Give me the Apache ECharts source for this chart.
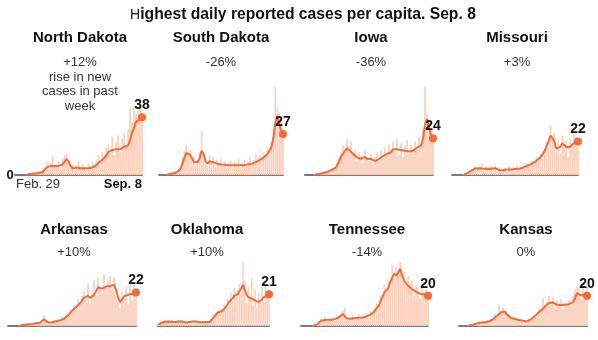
<!DOCTYPE html>
<html><head><meta charset="utf-8">
<script src="https://cdn.jsdelivr.net/npm/echarts@6/dist/echarts.min.js"></script>
<style>html,body{margin:0;padding:0;background:#fff}#c{width:598px;height:340px}</style>
</head><body><div id="c"></div>
<script>
// ---- DATA ----
const titleText = "Highest daily reported cases per capita. Sep. 8";
const states = ["North Dakota","South Dakota","Iowa","Missouri","Arkansas","Oklahoma","Tennessee","Kansas"];
const changes = ["+12%\nrise in new\ncases in past\nweek","-26%","-36%","+3%","+10%","+10%","-14%","0%"];
const lastValues = [38, 27, 24, 22, 22, 21, 20, 20];
const dateLabels = ["Feb. 29", "Sep. 8"];
const N = 65; // every 3 days, Feb 29 .. Sep 8
const _ = null;

const ndBars = [0,0,0,0,0,0, 0.5,1,0.4,2,1.5,0.8,2.5,1,3,5, 9,4,8,12,5,7,9,4,11,13, 14,8,5,7,3,6,9,4,7,5, 3,8,6,9,7,10,13,8,15,12, 18,20,14,25,13,22,26,15,24,28, 20,30,44,35,45,40,42,46,41];
const ndLine = [_,_,_,_,_,_, 0.3,0.5,0.7,1,1,1.2,1.3,1.5,2,2.5, 5,5.5,6,6.5,6,6.5,6,6.5,7,8, 10.5,9,6,4.5,3.5,5,5,4.5,4.5,4.5, 4.5,4.5,4.8,5,5.5,6.5,8,9,10,11, 13,15,16,16.5,15.5,17,17.5,17,18,18.5, 19,19.5,23,28,31,35,36,37,38];

const sdBars = [0,0,0,0, 0.3,0.8,1.2,0.6,2,1.5,4,6,12,16, 20,14,17,9,12,6,10,15,29,11, 8,6,13,9,12,5,10,7,11,6, 9,5,8,10,4,9,7,11,5,8, 10,6,9,12,7,10,14,8,13,11, 15,12,18,16,22,30,58,45,40,36,30];
const sdLine = [_,_,_,_, 0.2,0.5,0.8,1,1.3,1.6,2.5,4,7,11, 14.5,15,13.5,11,8.5,7.8,8.5,11,16,14, 9,7.5,9,10,8.5,8,7.5,8,7,7.5, 6.8,7,6.5,6.3,6.5,6.8,6.5,6.3,6.5,6.8, 6.5,6.8,7,7,7.5,8,8.5,9.5,10,10.5, 11.5,12.5,14,16,18.5,24,34,39,34,29,27];

const iaBars = [0,0,0,0,0, 0.5,0.8,1.2,0.6,1.8,2.5,1.4,3.5,4,5, 3,8,12,15,20,16,24,19,22,14, 17,9,15,13,8,16,12,9,14,7, 12,15,9,16,11,18,13,20,17,22, 15,24,13,21,12,19,23,14,20,18, 22,17,25,21,30,58,40,35,30,28];
const iaLine = [_,_,_,_,_, 0.3,0.5,0.7,1,1.3,1.7,2,2.6,3.2,3.7, 4.5,6,9,12,14,16,17.5,18,15.5,14, 13,11.5,12,10.7,11,12,10.5,10.3,10.7,9.5, 9.2,10,10.5,11.4,12.5,13,14,14.5,15,17, 18,17,16.5,16.5,15.8,16,16.3,15.5,15.5,16, 16.5,18,19,19.5,24,33,37,31,26,24];

const moBars = [0,0,0,0,0,0, 0.5,1.2,1,3,2,5,6,4,5,7, 3,6,5,4,6,3,7,2,5,4, 3,5,2,6,4,5,3,6,5,4, 7,5,8,6,9,10,7,12,9,14, 11,17,22,18,33,25,28,16,24,14, 26,18,23,12,24,20,27,25,18];
const moLine = [_,_,_,_,_,_, 0.3,0.8,1.4,2,3,3.8,4.3,4.5,4.4,4.6, 4.2,4.4,4.2,4.3,4.1,4.6,4.4,3.5,3.2,3.4, 3.3,3.5,3.6,3.7,3.7,3.8,3.9,4,4.1,4.2, 4.8,5.5,6,6.3,7,7.5,8.5,9.2,10.5,11.5, 13.5,15.8,19,22,26,24.5,22,17.5,17,18.5, 21,20,18.5,17.5,18.5,20,21,22,22];

const arBars = [0,0,0,0,0,0, 0.5,0.8,1,0.6,1.5,1.2,2,1.8,2.5,1.5, 3,2,7,4,1.5,3,2.5,4,3,5, 4,6,5,8,7,11,9,14,12,18, 15,20,23,17,28,15,22,30,20,32, 26,22,34,25,30,33,24,32,20,16, 12,23,18,26,14,30,17,27,25];
const arLine = [_,_,_,_,_,_, 0.3,0.5,0.7,0.9,1.1,1.3,1.4,1.6,1.8,2, 2.2,2.6,4.5,4,2.3,2.2,2.5,2.8,3.2,3.5, 3.7,4.2,4.8,6,7,8.5,10,11,12.5,13.6, 15,16,18.5,19.5,20,18.5,18,20.5,23,25.5, 25,24.6,25.5,26,26.8,26.3,26.5,27.2,24,19, 15.8,17.5,19.5,20,20.6,20.8,21.2,22,22];

const okBars = [1,2,1.5,3,4,2.5,3.5,2,4,3, 2,3.5,4,2.5,3,2,3,2,3.5,3, 2.5,4,3,2,3,2.5,3,2,3.5,2.5, 3,5,8,6,10,12,8,11,14,10, 18,13,22,16,25,19,24,28,22,42, 30,15,26,20,32,14,24,12,22,18, 25,16,27,22,24];
const okLine = [0.9,1.5,2,2.6,2.8,3,3,3,2.8,2.7, 2.6,2.8,3,2.9,3,2.6,2.3,2.5,2.6,2.8, 2.9,3,2.9,2.7,2.5,2.6,2.6,2.6,2.6,2.7, 2.8,3.5,5.5,7,8.5,9.2,9.5,9.6,11,12.5, 14,15.8,17,18.4,20,21.3,21,20.5,25,27.2, 23.5,21,19,18.5,18,17.2,16.9,16.2,15.8,16.5, 17.5,19,19.5,20,21];

const tnBars = [0,0,0,0,0,0, 0.5,1,1.5,3,5,4,6,3.5,5,4, 5,3.5,6,7,5,10,12,4,6,5, 7,4,6,8,4,7,6,9,5,10, 8,12,15,11,20,17,27,24,30,26, 40,31,39,35,42,30,36,26,33,28, 30,20,27,25,18,28,22,24,19];
const tnLine = [_,_,_,_,_,_, 0.2,0.5,0.9,2,3.5,4,4,4.2,4.2,4.3, 4.2,4.3,5,5.8,6.5,8,7.5,5,4.4,4.8, 5.3,5.2,5.3,5.5,5.3,5.5,5.9,6.3,6.6,7.5, 8.5,9.6,11.5,13,16,19,22,23.5,25,29, 32,34.4,33,32,37.7,33,30,28,26.5,25.2, 24.2,23.5,22.5,22,21.3,21.5,21,20.5,20];

const ksBars = [0,0,0,0,0, 0.5,0.8,1.2,2,1.5,3,2,3.5,2,4, 3,5,4,8,6,14,9,12,10,7, 8,5,6,4,5,3,5,2,4,3, 5,4,7,8,6,12,10,18,13,16, 20,14,19,12,17,15,18,11,16,14, 17,13,20,24,26,25,18,28,22,26];
const ksLine = [_,_,_,_,_, 0.3,0.6,0.9,1.3,1.7,2.1,2.3,2.4,2.5,2.7, 3.1,3.6,4.3,5.5,6.8,8,9,10.3,9.6,7.5, 6.3,5.3,5,4.6,4.2,4,3.7,3.5,3.1,3, 3.5,4.4,5.5,6.5,7.8,9,10.3,11.5,13,14.3, 15.2,15.8,15.5,15,14,13.6,13.8,14,14,14, 14.3,14.7,16,18,21.7,21,20.2,20.3,20.5,20];

const barsData = [ndBars, sdBars, iaBars, moBars, arBars, okBars, tnBars, ksBars];
const lineData = [ndLine, sdLine, iaLine, moLine, arLine, okLine, tnLine, ksLine];

// ---- LAYOUT ----
const panels = [
  {left:15, width:127, top:87, cx:80},
  {left:159, width:124, top:87, cx:221},
  {left:305, width:128, top:87, cx:371},
  {left:452, width:126, top:87, cx:517},
  {left:8, width:128, top:238, cx:74},
  {left:158, width:111, top:238, cx:207},
  {left:301, width:127, top:238, cx:367},
  {left:459, width:128, top:238, cx:526}
];
const PH = 88, YMAX = 58;
const FONT = '"Liberation Sans", Arial, sans-serif';
const ORANGE = '#f26b38', PEACH = '#fbd0bd';

const cats = Array.from({length:N}, (_, i) => i);
const grid = [], xAxis = [], yAxis = [], series = [], graphic = [];
panels.forEach((p, k) => {
  grid.push({left:p.left, width:p.width, top:p.top, height:PH, containLabel:false});
  xAxis.push({type:'category', gridIndex:k, data:cats, boundaryGap:false,
    axisLine:{show:true, lineStyle:{color:'#7a7a7a', width:2}}, axisTick:{show:false}, axisLabel:{show:false}, splitLine:{show:false}});
  yAxis.push({type:'value', gridIndex:k, min:0, max:YMAX, show:false});
  series.push({type:'bar', xAxisIndex:k, yAxisIndex:k, data:barsData[k], barCategoryGap:'12%',
    itemStyle:{color:PEACH}, silent:true, animation:false, clip:true});
  const last = N - 1;
  series.push({type:'line', xAxisIndex:k, yAxisIndex:k, symbol:'none', showAllSymbol:true,
    connectNulls:false, lineStyle:{color:ORANGE, width:2}, animation:false, silent:true, z:3,
    data: lineData[k].map((v, i) => i === last ? {value: lastValues[k], symbol:'circle', symbolSize:8,
      itemStyle:{color:ORANGE},
      label:{show:true, position:'top', distance:1, formatter:String(lastValues[k]), color:'#111', fontWeight:'bold', fontSize:14, fontFamily:FONT}} : v)});
  graphic.push({type:'text', x:p.cx, y:(k<4?38:230), style:{text:states[k], font:'bold 15px '+FONT, fill:'#111', align:'center', verticalAlign:'middle'}});
  graphic.push({type:'text', x:p.cx, y:(k<4?55:245), style:{text:changes[k], font:'13px '+FONT, fill:'#333', align:'center', verticalAlign:'top', lineHeight:14.7}});
});
// axis annotations for first panel
graphic.push({type:'text', x:10, y:175, style:{text:'0', font:'bold 13px '+FONT, fill:'#111', align:'center', verticalAlign:'middle'}});
graphic.push({type:'text', x:16, y:184, style:{text:dateLabels[0], font:'13px '+FONT, fill:'#333', align:'left', verticalAlign:'middle'}});
graphic.push({type:'text', x:142, y:184, style:{text:dateLabels[1], font:'bold 13px '+FONT, fill:'#111', align:'right', verticalAlign:'middle'}});
// main title
graphic.push({type:'text', x:303, y:15, style:{text:'{h|' + titleText.charAt(0) + '}{b|' + titleText.slice(1) + '}',
  align:'center', verticalAlign:'middle', fill:'#111',
  rich:{h:{font:'14px '+FONT, fill:'#111'}, b:{font:'bold 15.7px '+FONT, fill:'#111'}}}});

const chart = echarts.init(document.getElementById('c'), null, {renderer:'canvas'});
chart.setOption({animation:false, grid, xAxis, yAxis, series, graphic});
</script></body></html>
